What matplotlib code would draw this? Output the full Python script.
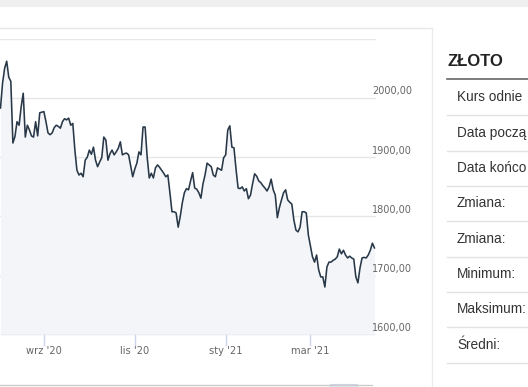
import pandas as pd
import matplotlib
matplotlib.use("Agg")
import matplotlib.pyplot as plt
from matplotlib.lines import Line2D
from matplotlib.patches import Rectangle

W, H = 528, 387

# gold price (USD/oz), one value per trading day
aug_20 = [1983, 2025, 2050, 2062, 2035, 2028, 1924, 1935, 1960, 1954, 1985,
          2008, 1934, 1954, 1946, 1936, 1934, 1960, 1936, 1975, 1976]
sep_20 = [1977, 1960, 1941, 1938, 1941, 1950, 1954, 1952, 1949, 1960, 1965,
          1963, 1966, 1954, 1957, 1912, 1878, 1870, 1873, 1867, 1895, 1900]
oct_20 = [1912, 1905, 1917, 1895, 1884, 1892, 1899, 1934, 1929, 1895, 1906,
          1912, 1904, 1909, 1915, 1926, 1904, 1906, 1907, 1904, 1885, 1867]
nov_20 = [1880, 1890, 1909, 1904, 1951, 1951, 1900, 1865, 1873, 1865, 1882,
          1887, 1883, 1878, 1873, 1867, 1870, 1840, 1808, 1808, 1806]
dec_20 = [1782, 1800, 1823, 1840, 1847, 1845, 1860, 1874, 1848, 1846, 1840,
          1831, 1855, 1870, 1890, 1887, 1884, 1870, 1867, 1882, 1880, 1878, 1899]
jan_21 = [1904, 1946, 1953, 1917, 1916, 1880, 1848, 1847, 1850, 1843, 1847,
          1830, 1836, 1855, 1872, 1868, 1860, 1857, 1852, 1848, 1843]
feb_21 = [1850, 1863, 1845, 1836, 1798, 1815, 1828, 1840, 1845, 1828, 1824,
          1821, 1794, 1777, 1774, 1782, 1808, 1808, 1806, 1769]
mar_21 = [1750, 1732, 1723, 1735, 1710, 1698, 1698, 1681, 1715, 1723, 1723,
          1726, 1728, 1732, 1745, 1737, 1743, 1735, 1730, 1733, 1730, 1728, 1698]
apr_21 = [1688, 1713, 1730, 1731, 1730, 1735, 1743, 1755, 1747]

prices = aug_20 + sep_20 + oct_20 + nov_20 + dec_20 + jan_21 + feb_21 + mar_21 + apr_21
dates = pd.bdate_range("2020-08-03", periods=len(prices))

tick_dates = ["2020-09-01", "2020-11-01", "2021-01-01", "2021-03-01"]
tick_labels = ["wrz '20", "lis '20", "sty '21", "mar '21"]
y_ticks = [1600, 1700, 1800, 1900, 2000]
y_labels = ["1600,00", "1700,00", "1800,00", "1900,00", "2000,00"]

# the side table is cut by the right edge of the screenshot
table_title = "ZŁOTO"
table_rows = ["Kurs odnie", "Data począ", "Data końco", "Zmiana:",
              "Zmiana:", "Minimum:", "Maksimum:", "Średni:"]


def fx(x):
    return x / W


def fy(y):
    return 1 - y / H


def hline(fig, x0, x1, y, color, lw=1.0):
    fig.add_artist(Line2D([fx(x0), fx(x1)], [fy(y), fy(y)], color=color, lw=lw))


fig = plt.figure(figsize=(W / 100, H / 100), dpi=100)
fig.patch.set_facecolor("white")

# page decoration
fig.add_artist(Rectangle((0, fy(7)), 1, 7 / H, color="#efefef", lw=0))
hline(fig, 0, 432, 28, "#e8e8e8")
fig.add_artist(Line2D([fx(432), fx(432)], [fy(28), 0], color="#ececec", lw=1))
hline(fig, 0, 372, 385, "#cccccc")
fig.add_artist(Rectangle((fx(330), 0), 27 / W, 3 / H, facecolor="#e6ebf5",
                         edgecolor="#ccd6eb", lw=0.8))

# chart
ax = fig.add_axes([0, fy(335), fx(376), (335 - 38.7) / H])
x = list(range(len(prices)))
ax.fill_between(x, prices, 1600, color="#f3f5f8", lw=0, zorder=1)
for v in y_ticks[1:] + [2100]:
    ax.axhline(v, color="#e6e6e6", lw=1, zorder=0)
ax.plot(x, prices, color="#283848", lw=1.15, zorder=3)
ax.set_xlim(-0.24, 181.75)
ax.set_ylim(1600, 2100)
ax.axis("off")
ax.axhline(1600, color="#ccd6eb", lw=1, zorder=4)

for v, lab in zip(y_ticks, y_labels):
    ax.text(372 / 376, v + 11, lab, transform=ax.get_yaxis_transform(),
            ha="left", va="center", fontsize=7.0, color="#666666",
            family="DejaVu Sans", clip_on=False)

for d, lab in zip(tick_dates, tick_labels):
    i = dates.searchsorted(pd.Timestamp(d))
    xp = ax.transData.transform((i, 1600))[0] / W
    fig.add_artist(Line2D([xp, xp], [fy(335), fy(345)], color="#ccd6eb", lw=1))
    fig.text(xp, fy(351), lab, ha="center", va="center", fontsize=7.1,
             color="#666666", family="DejaVu Sans")

# side table
fig.text(fx(447), fy(62), table_title, ha="left", va="center", fontsize=12,
         fontweight="bold", color="#222222", family="Liberation Sans")
hline(fig, 447, 528, 79, "#666666", lw=1.2)
row_y = [97, 133, 168, 203, 239, 274, 309, 345]
for ry, txt in zip(row_y, table_rows):
    fig.text(fx(457), fy(ry), txt, ha="left", va="center", fontsize=9.8,
             color="#333333", family="Liberation Sans")
    hline(fig, 447, 528, ry + 18, "#e3e3e3")

fig.savefig("out.png", dpi=100)
